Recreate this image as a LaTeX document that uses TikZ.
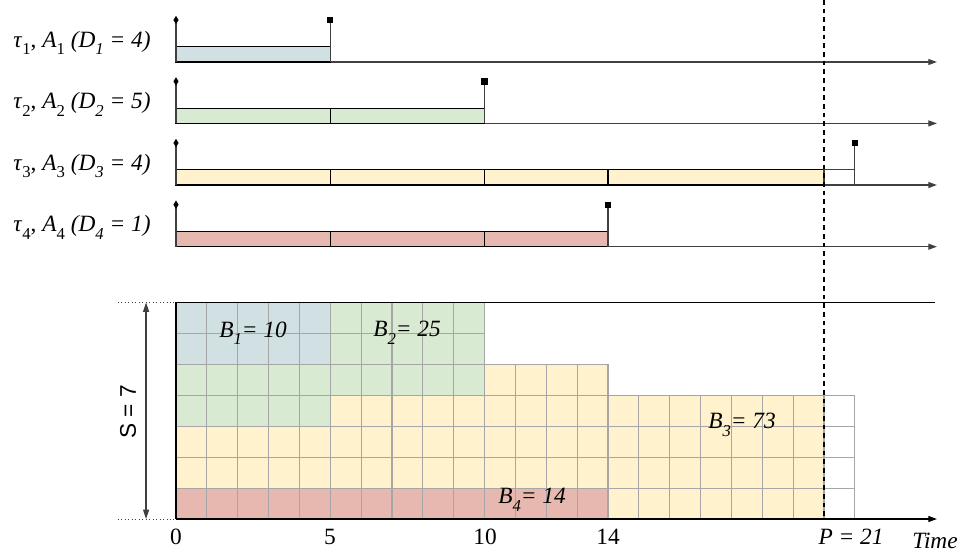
\documentclass[tikz,border=0pt]{standalone}
\usepackage{fontspec}
\setmainfont{Liberation Serif}
\setsansfont{Liberation Sans}
\usetikzlibrary{arrows.meta,shapes.geometric}
\definecolor{cb}{HTML}{D0E0E3}
\definecolor{cg}{HTML}{D9EAD3}
\definecolor{cy}{HTML}{FFF2CC}
\definecolor{cr}{HTML}{E6B8AF}
\definecolor{gridc}{HTML}{A6A6A6}
\definecolor{axc}{HTML}{404040}
\newcommand{\sbs}[1]{\raisebox{-0.32em}{\fontsize{12.5pt}{13pt}\selectfont #1}}
\begin{document}
\begin{tikzpicture}[x=0.75pt,y=-0.75pt,
  font=\fontsize{17.5pt}{19pt}\selectfont,
  axisline/.style={axc,line width=0.9pt,-{Triangle[length=6.5pt,width=4.5pt]}},
  barbox/.style={draw=black,line width=0.9pt},
  stem/.style={axc,line width=0.9pt},
  rmark/.style={diamond,fill=black,inner sep=0pt,minimum width=4pt,minimum height=6.5pt},
  dmark/.style={rectangle,fill=black,inner sep=0pt,minimum size=4.8pt},
  gline/.style={gridc,line width=0.8pt},
  lbl/.style={inner sep=0pt},
  toplbl/.style={inner sep=0pt,font=\fontsize{17.5pt}{19pt}\selectfont}]
\useasboundingbox (0,0) rectangle (961,553);
% ---------- top timelines ----------
\foreach \yy/\col/\segs/\dl in {62/cb/{0/5}/5, 123.4/cg/{0/5,5/10}/10, 185/cy/{0/5,5/10,10/14,14/21}/22, 246.7/cr/{0/5,5/10,10/14}/14}{
  \begin{scope}[shift={(176,\yy)},x=23.143pt,y=-0.75pt]
    \draw[axisline] (0,0) -- (24.66,0);
    \foreach \a/\b in \segs { \filldraw[fill=\col,barbox] (\a,0) rectangle (\b,-15.3); }
    \draw[stem] (0,0) -- (0,-42);
    \node[rmark] at (0,-42) {};
    \draw[stem] (\dl,0) -- (\dl,-42);
    \node[dmark] at (\dl,-42) {};
  \end{scope}
}
\begin{scope}[shift={(176,185)},x=23.143pt,y=-0.75pt]
  \draw[axc,line width=0.9pt] (21,0) rectangle (22,-15.3);
\end{scope}
\node[toplbl] (l1) at (82,43) {\textit{τ}\sbs{1}, \textit{A}\sbs{1} \textit{(D\sbs{1} = 4)}};
\node[toplbl] (l2) at (82,104.5) {\textit{τ}\sbs{2}, \textit{A}\sbs{2} \textit{(D\sbs{2} = 5)}};
\node[toplbl] (l3) at (82,166) {\textit{τ}\sbs{3}, \textit{A}\sbs{3} \textit{(D\sbs{3} = 4)}};
\node[toplbl] (l4) at (82,227.5) {\textit{τ}\sbs{4}, \textit{A}\sbs{4} \textit{(D\sbs{4} = 1)}};
% ---------- bottom grid ----------
\begin{scope}[shift={(176,519)},x=23.143pt,y=23.2pt]
  \fill[cb] (0,5) rectangle (5,7);
  \fill[cg] (5,5) rectangle (10,7);
  \fill[cg] (0,4) rectangle (10,5);
  \fill[cg] (0,3) rectangle (5,4);
  \fill[cy] (10,4) rectangle (14,5);
  \fill[cy] (5,3) rectangle (21,4);
  \fill[cy] (0,1) rectangle (21,3);
  \fill[cy] (14,0) rectangle (21,1);
  \fill[cr] (0,0) rectangle (14,1);
  % vertical grid lines
  \foreach \i in {1,...,10} { \draw[gline] (\i,0) -- (\i,7); }
  \foreach \i in {11,...,14} { \draw[gline] (\i,0) -- (\i,5); }
  \foreach \i in {15,...,22} { \draw[gline] (\i,0) -- (\i,4); }
  % horizontal grid lines
  \foreach \j in {5,6} { \draw[gline] (0,\j) -- (10,\j); }
  \draw[gline] (0,5) -- (14,5);
  \foreach \j in {1,2,3,4} { \draw[gline] (0,\j) -- (22,\j); }
  \draw[black,line width=0.9pt] (0,0) -- (0,7);
  \draw[black,line width=0.9pt] (0,7) -- (24.6,7);
  \draw[black,line width=0.9pt,-{Triangle[length=6.5pt,width=4.5pt]}] (0,0) -- (24.66,0);
  \draw[axc,line width=0.6pt,dotted] (-1.88,0) -- (0,0);
  \draw[axc,line width=0.6pt,dotted] (-1.88,7) -- (0,7);
  \coordinate (stop) at (-0.97,7);
  \coordinate (sbot) at (-0.97,0);
  \draw[axc,line width=0.9pt,{Triangle[length=7pt,width=4.5pt]}-{Triangle[length=7pt,width=4.5pt]}] (stop) -- (sbot);
\end{scope}
\draw[black,line width=0.8pt,dash pattern=on 3.5pt off 3pt] (824,0) -- (824,519);
\node[lbl,rotate=90,font=\sffamily\fontsize{17pt}{19pt}\selectfont] (s7) at (128,412) {S = 7};
\node[lbl] (b1) at (253,333) {\textit{B\sbs{1}= 10}};
\node[lbl] (b2) at (407,333) {\textit{B\sbs{2}= 25}};
\node[lbl] (b3) at (742,425) {\textit{B\sbs{3}= 73}};
\node[lbl] (b4) at (532,500) {\textit{B\sbs{4}= 14}};
\node[lbl] (t0) at (176,537) {0};
\node[lbl] (t5) at (330,537) {5};
\node[lbl] (t10) at (485,537) {10};
\node[lbl] (t14) at (608,537) {14};
\node[lbl] (tp) at (851,537) {\textit{P = 21}};
\node[lbl] (tt) at (935,541) {\textit{Time}};
\end{tikzpicture}
\end{document}
